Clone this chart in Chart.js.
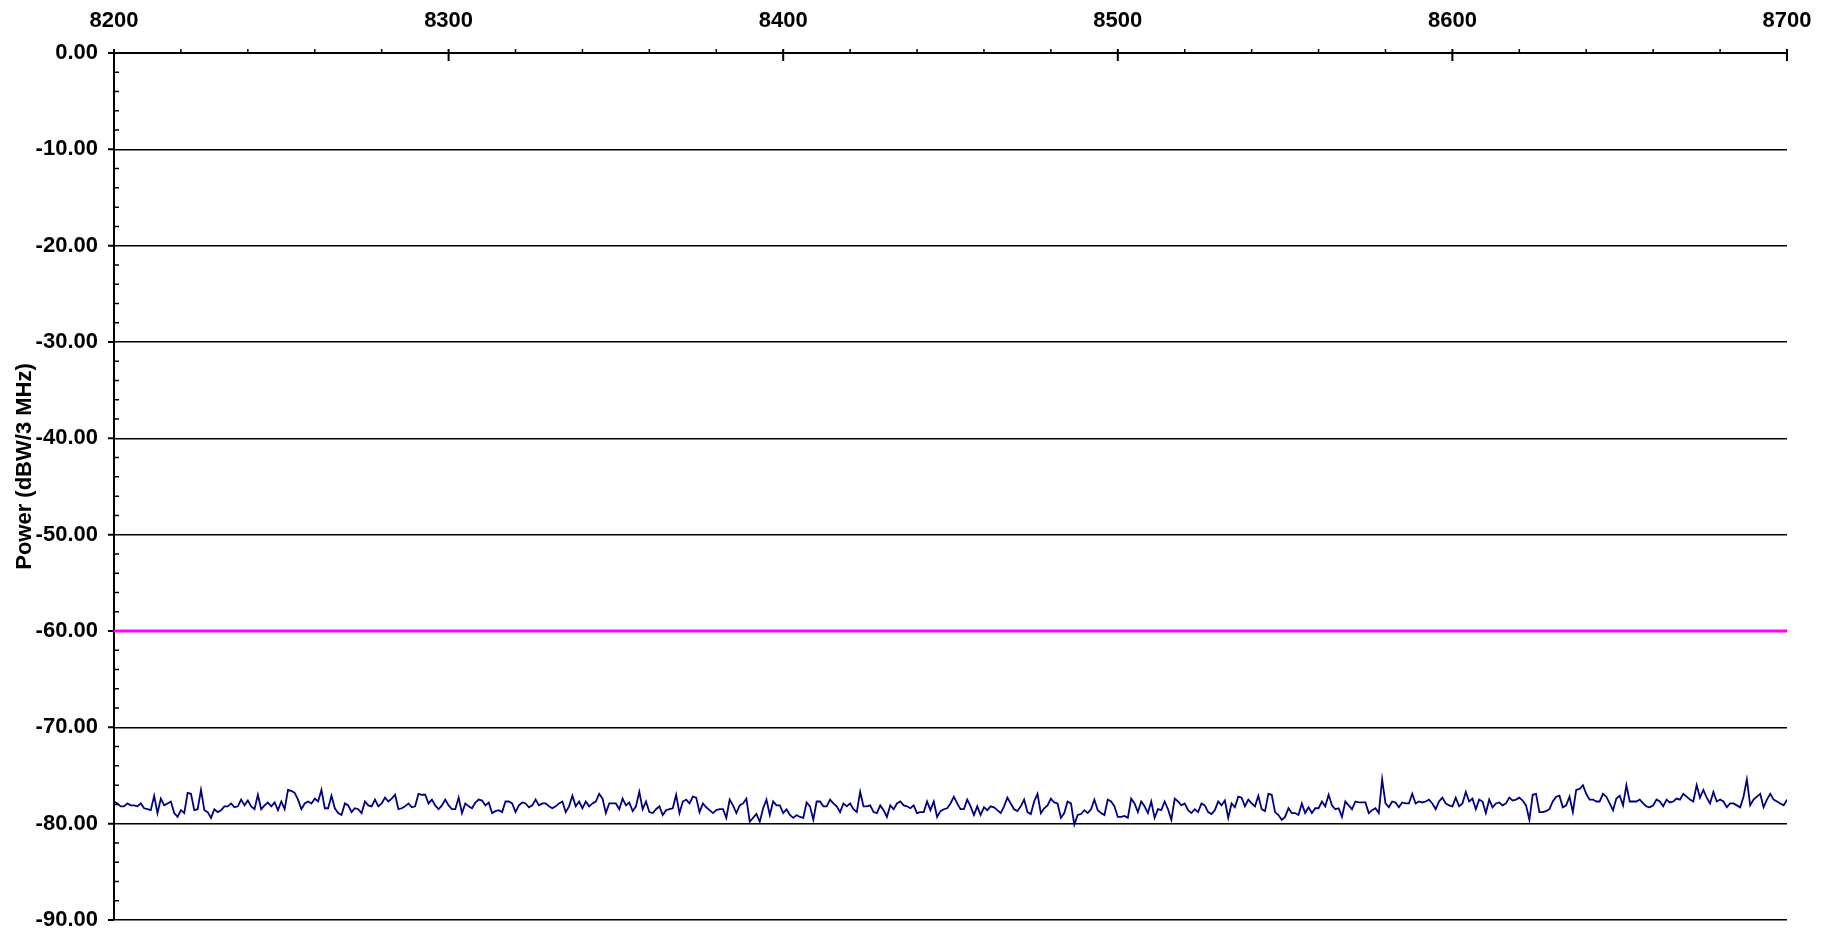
<!DOCTYPE html>
<html><head><meta charset="utf-8">
<script src="https://cdn.jsdelivr.net/npm/chart.js@4"></script>
<style>html,body{margin:0;padding:0;background:#fff;overflow:hidden}#wrap{width:1828px;height:931px}</style>
</head><body><div id="wrap"><canvas id="c" width="1828" height="931"></canvas></div>
<script>
const freqStartMHz = 8200;
const freqEndMHz = 8700;
const xTickLabels = ['8200','8300','8400','8500','8600','8700'];
const yTickLabels = ['0.00','-10.00','-20.00','-30.00','-40.00','-50.00','-60.00','-70.00','-80.00','-90.00'];
const yAxisTitle = 'Power (dBW/3 MHz)';
const limitFreqMHz = [8200, 8700];
const limitPowerDbw = [-60, -60];

const power8200to8265 = [-77.7,-77.9,-78.2,-78.2,-77.9,-78.1,-78.1,-78.2,-77.9,-78.4,-78.5,-78.6,-77.1,-78.9,-77.4,-78.1,-77.9,-77.7,-78.9,-79.3,-78.6,-78.9,-76.8,-76.9,-78.6,-78.5,-76.5,-78.6,-78.8,-79.4,-78.5,-78.8,-78.6,-78.2,-78.2,-77.9,-78.3,-78.2,-77.5,-78.1,-77.6,-78.2,-78.5,-77.0,-78.5,-78.1,-77.8,-78.2,-77.8,-78.6,-77.7,-78.5,-76.5,-76.6,-76.8,-77.5,-78.5,-77.9,-77.7,-77.9,-77.4,-77.7,-76.5,-78.4,-78.4];
const power8265to8330 = [-77.1,-78.4,-78.9,-79.1,-77.9,-78.1,-78.8,-78.4,-78.5,-78.9,-77.7,-78.1,-78.2,-77.5,-78.2,-77.9,-77.3,-77.7,-77.4,-77.0,-78.5,-78.4,-78.2,-77.9,-78.3,-78.2,-76.9,-77.0,-77.0,-77.9,-77.5,-78.1,-78.5,-78.1,-77.5,-78.1,-78.5,-78.5,-77.3,-78.9,-77.9,-78.2,-78.4,-77.8,-77.5,-77.6,-78.1,-77.8,-78.9,-78.7,-78.6,-78.8,-77.7,-77.7,-77.9,-78.8,-78.1,-77.8,-77.9,-78.3,-78.1,-77.5,-78.1,-77.9,-77.9,-78.2];
const power8331to8396 = [-78.4,-78.2,-77.9,-77.7,-78.8,-78.2,-77.1,-78.2,-77.7,-78.4,-77.7,-78.2,-77.9,-77.7,-76.9,-77.4,-78.9,-77.9,-77.9,-77.9,-78.5,-77.4,-78.1,-77.8,-78.7,-78.2,-76.7,-78.5,-77.7,-78.8,-78.9,-78.5,-78.2,-79.1,-78.6,-78.5,-78.4,-77.0,-78.9,-77.7,-77.5,-77.9,-77.2,-77.3,-78.8,-77.9,-78.3,-78.6,-78.9,-78.6,-78.5,-78.5,-79.4,-77.5,-78.1,-78.9,-78.1,-77.9,-77.4,-79.8,-79.4,-79.0,-79.8,-78.4,-77.5,-79.1];
const power8397to8472 = [-77.7,-78.1,-78.1,-78.9,-78.5,-79.1,-79.4,-79.1,-79.3,-79.4,-77.8,-78.2,-79.6,-77.7,-77.7,-78.2,-78.2,-77.5,-77.9,-78.2,-78.8,-77.9,-78.2,-77.9,-78.5,-78.8,-76.7,-78.2,-78.2,-78.1,-78.8,-78.9,-78.1,-78.6,-79.3,-78.1,-78.5,-77.9,-77.7,-78.1,-78.2,-78.4,-78.1,-78.9,-78.8,-78.8,-77.7,-78.6,-77.7,-79.3,-78.7,-78.5,-78.4,-77.9,-77.2,-77.9,-78.5,-78.5,-77.5,-78.2,-79.1,-78.2,-79.1,-78.3,-78.6,-78.2,-78.3,-78.6,-78.9,-78.2,-77.3,-77.9,-78.5,-78.7,-78.2,-77.5];
const power8473to8546 = [-78.8,-79.0,-77.7,-76.9,-78.9,-78.4,-78.1,-77.4,-77.8,-77.9,-79.4,-78.9,-77.7,-77.9,-80.1,-79.1,-79.0,-78.6,-78.9,-78.5,-77.5,-78.6,-78.9,-79.1,-77.5,-77.7,-78.2,-79.3,-79.3,-79.2,-79.4,-77.4,-77.9,-78.8,-77.7,-78.2,-78.9,-77.7,-79.4,-78.5,-78.6,-77.7,-78.5,-79.6,-77.4,-77.7,-78.1,-77.9,-78.6,-78.9,-78.5,-78.8,-77.9,-78.1,-78.8,-79.0,-78.6,-77.7,-78.1,-77.6,-79.4,-77.9,-78.3,-77.2,-77.3,-78.2,-77.5,-77.9,-78.2,-77.1,-78.5,-78.7,-76.9,-77.0];
const power8547to8623 = [-78.8,-79.1,-79.6,-79.3,-78.4,-78.9,-78.9,-79.1,-77.9,-78.9,-78.3,-78.9,-78.4,-78.4,-77.7,-78.2,-77.0,-78.1,-78.5,-78.4,-79.3,-77.7,-78.1,-78.5,-77.7,-77.8,-77.8,-77.8,-78.9,-78.6,-78.4,-78.9,-75.4,-77.9,-78.3,-77.7,-77.8,-78.3,-77.8,-77.9,-77.9,-76.9,-77.9,-77.7,-77.8,-77.7,-77.5,-77.9,-78.5,-77.7,-77.3,-77.9,-78.1,-78.2,-77.3,-78.2,-77.9,-76.7,-77.7,-77.4,-78.5,-77.5,-77.7,-78.9,-77.5,-78.3,-77.9,-77.8,-78.1,-77.9,-77.3,-77.6,-77.5,-77.3,-77.6,-78.1,-79.6];
const power8624to8700 = [-77.0,-76.9,-78.8,-78.8,-78.7,-78.5,-77.7,-77.2,-77.1,-78.3,-78.1,-77.2,-78.8,-76.5,-76.4,-76.0,-76.9,-77.5,-77.5,-77.7,-77.7,-76.9,-77.2,-77.9,-78.6,-77.4,-77.1,-78.1,-76.0,-77.7,-77.7,-77.7,-77.5,-77.9,-78.2,-78.3,-78.1,-77.5,-77.7,-78.2,-77.5,-77.8,-77.7,-77.4,-77.5,-76.9,-77.2,-77.5,-77.7,-76.0,-77.3,-76.5,-77.3,-77.9,-76.7,-77.7,-77.5,-77.7,-78.3,-77.9,-77.9,-78.1,-78.3,-77.2,-75.4,-78.1,-77.5,-77.2,-76.9,-78.3,-77.5,-76.9,-77.5,-77.7,-77.9,-78.1,-77.5];

const measuredPowerDbw = [].concat(power8200to8265, power8265to8330, power8331to8396, power8397to8472, power8473to8546, power8547to8623, power8624to8700);
const stepMHz = (freqEndMHz - freqStartMHz) / (measuredPowerDbw.length - 1);
const measuredPoints = measuredPowerDbw.map((v, i) => ({x: freqStartMHz + i * stepMHz, y: v}));
const limitPoints = limitFreqMHz.map((f, i) => ({x: f, y: limitPowerDbw[i]}));

const FONT = '"Liberation Sans", Arial, Helvetica, sans-serif';

const axisDecor = {
  id: 'axisDecor',
  afterDraw(chart) {
    const {ctx, chartArea: {left, top, bottom}, scales: {x, y}} = chart;
    ctx.save();
    ctx.strokeStyle = '#000';
    ctx.lineWidth = 2;
    ctx.beginPath();
    for (let v = 0; v >= -90; v -= 10) {
      const py = y.getPixelForValue(v);
      ctx.moveTo(left - 6, py); ctx.lineTo(left, py);
    }
    for (let f = freqStartMHz; f <= freqEndMHz; f += 100) {
      const px = x.getPixelForValue(f);
      ctx.moveTo(px, top - 4); ctx.lineTo(px, top + 8);
    }
    ctx.stroke();
    ctx.lineWidth = 1.5;
    ctx.beginPath();
    for (let v = -2; v > -90; v -= 2) {
      if (v % 10 === 0) continue;
      const py = y.getPixelForValue(v);
      ctx.moveTo(left, py); ctx.lineTo(left + 5, py);
    }
    for (let f = freqStartMHz + 20; f < freqEndMHz; f += 20) {
      if ((f - freqStartMHz) % 100 === 0) continue;
      const px = x.getPixelForValue(f);
      ctx.moveTo(px, top - 4); ctx.lineTo(px, top);
    }
    ctx.stroke();
    ctx.translate(25, (top + bottom) / 2 - 20);
    ctx.rotate(-Math.PI / 2);
    ctx.font = 'bold 22px ' + FONT;
    ctx.fillStyle = '#000';
    ctx.textAlign = 'center';
    ctx.textBaseline = 'middle';
    ctx.fillText(yAxisTitle, 0, 0);
    ctx.restore();
  }
};

new Chart(document.getElementById('c'), {
  type: 'line',
  data: {
    datasets: [
      {data: limitPoints, borderColor: '#ff00ff', borderWidth: 3, pointRadius: 0, fill: false},
      {data: measuredPoints, borderColor: '#000080', borderWidth: 1.8, pointRadius: 0, fill: false, tension: 0}
    ]
  },
  options: {
    responsive: false,
    devicePixelRatio: 1,
    animation: false,
    layout: {padding: {left: 0, top: 0, right: 41, bottom: 11}},
    plugins: {legend: {display: false}, tooltip: {enabled: false}},
    scales: {
      x: {
        type: 'linear', position: 'top', min: freqStartMHz, max: freqEndMHz,
        afterFit(s) { s.height = 53; s.paddingLeft = 0; s.paddingRight = 0; },
        grid: {display: false, drawTicks: false},
        border: {display: true, color: '#000', width: 2},
        ticks: {
          stepSize: 100, padding: 19, color: '#000', maxRotation: 0,
          font: {family: FONT, size: 22, weight: 'bold'},
          callback: (v) => xTickLabels[Math.round((v - freqStartMHz) / 100)]
        }
      },
      y: {
        type: 'linear', min: -90, max: 0,
        afterFit(s) { s.width = 114; s.paddingTop = 0; s.paddingBottom = 0; },
        grid: {color: '#000', lineWidth: 1.5, drawTicks: false},
        border: {display: true, color: '#000', width: 2},
        ticks: {
          stepSize: 10, padding: 16, color: '#000',
          font: {family: FONT, size: 22, weight: 'bold'},
          callback: (v) => yTickLabels[Math.round(-v / 10)]
        }
      }
    }
  },
  plugins: [axisDecor]
});
</script>
</body></html>
